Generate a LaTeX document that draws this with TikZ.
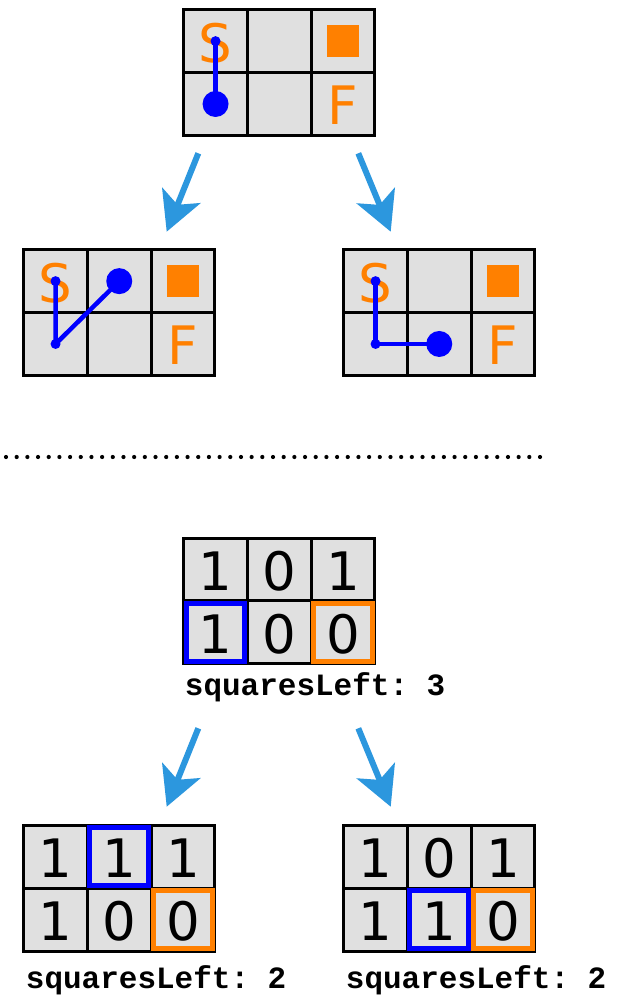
\documentclass[tikz,border=0pt]{standalone}
\usepackage{fontspec}
\newfontfamily\cellfont{DejaVu Sans}
\newfontfamily\codefont{Liberation Mono}
\usetikzlibrary{arrows.meta}
\frenchspacing

\definecolor{pathblue}{RGB}{0,0,255}
\definecolor{markorange}{RGB}{255,128,0}
\definecolor{cellgray}{RGB}{224,224,224}
\definecolor{arrowblue}{RGB}{44,151,222}

\tikzset{
  boardframe/.style={draw=black, fill=cellgray, line width=3pt, inner sep=0pt, outer sep=0pt,
    minimum width=191.1pt, minimum height=125.7pt},
  gridline/.style={draw=black, line width=3pt},
  celltext/.style={font=\cellfont\fontsize{53}{60}\selectfont, anchor=base, yshift=-21pt, inner sep=0pt},
  markS/.style={celltext, text=markorange},
  digit/.style={celltext, text=black},
  codelabel/.style={font=\codefont\bfseries\fontsize{31}{36}\selectfont, anchor=base west, inner sep=0pt},
  walk/.style={draw=pathblue, line width=4.5pt, line join=round},
  hlblue/.style={draw=pathblue, line width=5pt},
  hlorange/.style={draw=markorange, line width=5pt},
  flowarrow/.style={draw=arrowblue, line width=6pt, -{Stealth[length=39pt, width=41pt, inset=10pt]}},
}

% a 3x2 board; cell centres are named <board>-<col><row>
\newcommand\boardgrid[3]{%
  \begin{scope}[shift={(#2,#3)}]
    \node[boardframe, anchor=north west] (#1) at (0,0) {};
    \draw[gridline] (63.7,0) -- (63.7,125.7) (127.4,0) -- (127.4,125.7) (0,62.85) -- (191.1,62.85);
    \foreach \c in {0,1,2}{\foreach \r in {0,1}{%
      \coordinate (#1-\c\r) at ({(\c+0.5)*63.7},{(\r+0.5)*62.85});}}
  \end{scope}}

% start, target square and finish of a path board
\newcommand\pathmarks[1]{%
  \node[markS] at (#1-00) {S};
  \node[markS] at (#1-21) {F};
  \fill[markorange] (#1-20) +(-16,-16) rectangle +(16,16);}

% numbers of a count board
\newcommand\counts[7]{%
  \node[digit] at (#1-00) {#2};
  \node[digit] at (#1-10) {#3};
  \node[digit] at (#1-20) {#4};
  \node[digit] at (#1-01) {#5};
  \node[digit] at (#1-11) {#6};
  \node[digit] at (#1-21) {#7};}

\newcommand\boxcell[2]{\draw[#1] (#2) +(-29.35,-28.9) rectangle +(29.35,28.9);}

\begin{document}
\begin{tikzpicture}[x=1pt, y=-1pt]
  \fill[white] (0,0) rectangle (618,995);
  \useasboundingbox (0,0) rectangle (618,995);

  % ---- path search ----
  \boardgrid{p0}{183.7}{9.7}
  \boardgrid{p1}{23.7}{249.7}
  \boardgrid{p2}{343.7}{249.7}
  \pathmarks{p0}
  \pathmarks{p1}
  \pathmarks{p2}

  \draw[walk] (p0-00) -- (p0-01);
  \fill[pathblue] (p0-00) circle (5pt);
  \fill[pathblue] (p0-01) circle (13pt);

  \draw[walk] (p1-00) -- (p1-01) -- (p1-10);
  \fill[pathblue] (p1-00) circle (5pt);
  \fill[pathblue] (p1-01) circle (5pt);
  \fill[pathblue] (p1-10) circle (13pt);

  \draw[walk] (p2-00) -- (p2-01) -- (p2-11);
  \fill[pathblue] (p2-00) circle (5pt);
  \fill[pathblue] (p2-01) circle (5pt);
  \fill[pathblue] (p2-11) circle (13pt);

  \coordinate (a1s) at (198.3,153.3);
  \coordinate (a1e) at (166.7,231.7);
  \coordinate (a2s) at (358.3,153.3);
  \coordinate (a2e) at (390.7,231.7);
  \draw[flowarrow] (a1s) -- (a1e);
  \draw[flowarrow] (a2s) -- (a2e);

  % ---- separator ----
  \foreach \i in {0,...,50}{\fill[black] ({6+\i*10.68},457) circle (2.1pt);}

  % ---- counting version ----
  \boardgrid{c0}{183.7}{538}
  \boardgrid{c1}{23.7}{825.3}
  \boardgrid{c2}{343.7}{825.3}

  \counts{c0}{1}{0}{1}{1}{0}{0}
  \boxcell{hlblue}{c0-01}
  \boxcell{hlorange}{c0-21}
  \node[codelabel] (l0) at (184.7,695.7) {squaresLeft: 3};

  \counts{c1}{1}{1}{1}{1}{0}{0}
  \boxcell{hlblue}{c1-10}
  \boxcell{hlorange}{c1-21}
  \node[codelabel] (l1) at (25.7,988.3) {squaresLeft: 2};

  \counts{c2}{1}{0}{1}{1}{1}{0}
  \boxcell{hlblue}{c2-11}
  \boxcell{hlorange}{c2-21}
  \node[codelabel] (l2) at (345.7,988.3) {squaresLeft: 2};

  \coordinate (b1s) at (198.3,728.3);
  \coordinate (b1e) at (166.7,806.7);
  \coordinate (b2s) at (358.3,728.3);
  \coordinate (b2e) at (390.7,806.7);
  \draw[flowarrow] (b1s) -- (b1e);
  \draw[flowarrow] (b2s) -- (b2e);
\end{tikzpicture}
\end{document}
